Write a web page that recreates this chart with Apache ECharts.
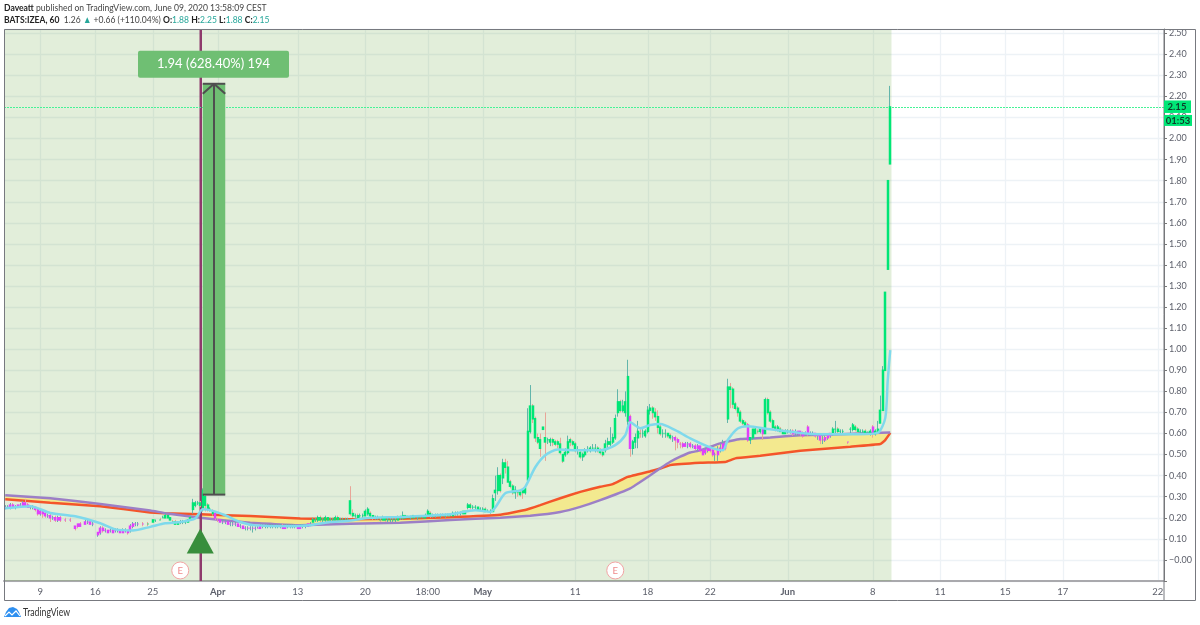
<!DOCTYPE html>
<html>
<head>
<meta charset="utf-8">
<script src="https://cdn.jsdelivr.net/npm/echarts@6/dist/echarts.min.js"></script>
<style>html,body{margin:0;padding:0;background:#fff}#c{width:1200px;height:625px}</style>
</head>
<body>
<div id="c"></div>
<script>
const _ = null;
const BAR_SLOTS = 464;
const tickIndex = [14,36,59,85,117,144,169,191,228,257,282,313,347,374,400,423,461];
const tickLabels = ['9','16','25','Apr','13','20','18:00','May','11','18','22','Jun','8','11','15','17','22'];
const monthLabels = ['Apr','May','Jun'];

const opens = [
.25,.25,.25,.26,.25,.25,.26,.26,.27,.26,
.25,.25,.25,.24,.22,.23,.22,.21,.21,.20,
.20,.19,.20,_,.19,_,.19,_,.16,.17,
.17,_,.17,.18,.18,.17,_,.12,.13,.15,
.14,.14,.14,.13,.14,.14,.14,.13,.14,.14,
.14,.16,.17,.17,_,.17,_,.17,_,.18,
.19,_,.19,.20,.20,.21,.20,.18,.18,.17,
.18,.18,.18,.18,.19,.24,.26,.27,.27,.24,
.30,.26,.24,.23,.22,.19,.19,.18,.18,.18,
.17,.17,.17,.17,.16,.16,.15,.15,.15,.15,
.15,.15,.15,.16,.16,.16,.16,.16,.16,.16,
.16,.16,.15,.16,.16,.16,.16,.16,.15,.16,
.16,.16,.17,.18,.19,.19,.20,.19,.19,.20,
.19,.19,.19,.20,.19,.19,.19,.19,.28,.22,
.21,.21,.21,.21,.21,.22,.22,.21,.20,.20,
.19,.19,.20,.19,.19,.19,.19,.19,.20,.20,
.21,.20,.20,.20,.20,.20,.20,.20,.20,.21,
.22,.21,.21,.21,.21,.21,.21,.21,.21,.21,
.22,.22,.22,.22,.23,.25,.26,.25,.25,.25,
.24,.24,.24,.23,.23,.23,.32,.33,.40,.39,
.46,.44,.37,.35,.32,.32,.32,.33,.32,.38,
.61,.73,.67,.58,.57,.62,.58,.57,.56,.57,
.56,.56,.55,.50,.50,.51,.57,.56,.55,.52,
.51,.49,.50,.52,.52,.53,.53,.53,.52,.51,
.52,.55,.55,.56,.58,.70,.75,.71,.70,.66,
.68,.53,.56,.58,.60,.60,.59,.61,.71,.72,
.70,.68,.63,.60,.60,.60,.59,.58,.58,.57,
.55,.55,.54,.55,.55,.54,.54,.53,.54,.52,
.51,.52,.53,.52,.50,.50,.52,.53,.55,.67,
.82,.81,.74,.72,.70,.66,.65,.64,.57,.58,
.60,.61,.61,.62,.60,.76,.70,.66,.63,.62,
.62,.61,.60,.61,.61,.61,.60,.60,.61,.60,
.60,.63,.60,.60,.60,.59,.59,.57,.57,.58,
.59,.60,.62,.62,.61,.61,_,.56,.62,.62,
.63,.62,.61,.61,.61,.60,.60,.63,.60,.61,
.65,.71,.90,1.38,1.88];

const closes = [
.25,.25,.26,.25,.25,.26,.26,.27,.26,.25,
.25,.25,.24,.22,.23,.22,.21,.21,.20,.20,
.19,.20,.19,_,.19,_,.19,_,.15,.16,
.16,_,.18,.18,.17,.17,_,.13,.15,.14,
.14,.13,.14,.14,.14,.14,.13,.14,.14,.13,
.16,.17,.17,.17,_,.17,_,.17,_,.19,
.19,_,.19,.20,.21,.20,.19,.18,.17,.18,
.18,.18,.18,.19,.20,.27,.27,.27,.26,.33,
.26,.24,.24,.22,.20,.19,.18,.18,.18,.17,
.17,.17,.17,.16,.16,.15,.15,.15,.15,.15,
.15,.15,.16,.16,.16,.16,.16,.16,.16,.16,
.16,.15,.16,.16,.16,.16,.16,.15,.16,.16,
.16,.17,.17,.19,.19,.20,.19,.19,.20,.19,
.19,.19,.20,.19,.19,.19,.19,.19,.22,.21,
.21,.20,.21,.21,.23,.24,.21,.20,.20,.20,
.19,.20,.19,.19,.19,.19,.19,.20,.20,.21,
.20,.20,.20,.21,.20,.20,.20,.20,.21,.23,
.21,.21,.21,.21,.21,.21,.21,.21,.21,.22,
.22,.22,.22,.23,.22,.26,.25,.25,.25,.24,
.24,.24,.23,.23,.23,.29,.33,.40,.33,.46,
.44,.37,.35,.32,.33,.32,.31,.32,.34,.61,
.73,.67,.58,.56,.53,.63,.56,.57,.57,.56,
.55,.55,.51,.47,.51,.56,.56,.55,.52,.52,
.49,.50,.52,.52,.53,.53,.53,.52,.51,.50,
.55,.56,.56,.58,.67,.75,.71,.73,.75,.87,
.53,.56,.58,.61,.60,.60,.61,.71,.72,.70,
.68,.63,.60,.60,.60,.59,.58,.58,.57,.56,
.55,.54,.55,.55,.54,.54,.53,.54,.52,.50,
.52,.53,.52,.50,.50,.52,.53,.55,.53,.82,
.81,.74,.72,.70,.66,.65,.64,.57,.58,.62,
.62,.61,.62,.60,.76,.70,.66,.63,.62,.63,
.61,.60,.61,.61,.61,.60,.60,.61,.60,.59,
.60,.60,.60,.60,.59,.59,.57,.57,.58,.59,
.60,.62,.62,.61,.61,.61,_,.56,.62,.64,
.62,.61,.61,.61,.60,.60,.61,.60,.61,.62,
.71,.90,1.27,1.80,2.15];

const highs = [
.26,.26,.27,.27,.26,.26,.27,.28,.29,.27,
.26,.26,.25,.25,.24,.23,.23,.22,.22,.21,
.21,.21,.21,_,.20,_,.20,_,.16,.17,
.18,_,.19,.19,.19,.18,_,.13,.16,.16,
.15,.14,.15,.15,.15,.15,.14,.15,.15,.14,
.17,.18,.18,.18,_,.18,_,.18,_,.19,
.19,_,.20,.21,.22,.21,.20,.19,.19,.18,
.19,.19,.19,.19,.21,.29,.28,.28,.28,.34,
.31,.27,.25,.24,.23,.20,.19,.19,.19,.18,
.18,.18,.18,.17,.17,.16,.16,.16,.16,.16,
.16,.16,.17,.17,.17,.17,.17,.17,.17,.17,
.17,.17,.17,.17,.17,.17,.17,.16,.17,.17,
.17,.17,.18,.20,.20,.21,.21,.20,.21,.20,
.20,.20,.21,.21,.20,.20,.20,.20,.35,.24,
.22,.22,.22,.22,.24,.25,.23,.21,.21,.21,
.20,.21,.20,.20,.20,.20,.20,.21,.21,.23,
.21,.21,.21,.21,.21,.21,.21,.21,.22,.24,
.23,.22,.22,.22,.22,.22,.22,.22,.22,.23,
.23,.23,.23,.23,.23,.27,.27,.26,.26,.25,
.25,.25,.25,.24,.24,.31,.40,.44,.41,.48,
.48,.47,.38,.36,.35,.33,.33,.34,.34,.72,
.83,.74,.68,.60,.60,.63,.70,.58,.58,.58,
.57,.57,.58,.50,.53,.59,.58,.57,.56,.54,
.52,.51,.53,.54,.54,.55,.55,.54,.53,.52,
.57,.58,.63,.60,.69,.81,.76,.76,.80,.95,
.69,.57,.60,.66,.62,.62,.62,.73,.74,.73,
.72,.71,.65,.62,.62,.60,.60,.59,.59,.58,
.56,.56,.56,.56,.56,.55,.55,.55,.54,.52,
.53,.54,.54,.53,.51,.54,.55,.57,.56,.86,
.84,.82,.75,.73,.71,.67,.66,.65,.58,.62,
.63,.62,.63,.63,.77,.77,.71,.67,.64,.64,
.63,.62,.62,.62,.62,.62,.62,.61,.61,.61,
.61,.64,.61,.61,.60,.60,.59,.59,.59,.60,
.60,.63,.66,.63,.62,.62,_,.56,.63,.65,
.64,.63,.62,.62,.62,.61,.62,.64,.62,.66,
.78,.92,1.27,1.80,2.25];

const lows = [
.24,.25,.24,.25,.24,.25,.25,.26,.25,.25,
.24,.24,.23,.21,.21,.20,.20,.20,.18,.19,
.18,.18,.18,_,.18,_,.18,_,.14,.15,
.16,_,.17,.17,.17,.16,_,.11,.12,.13,
.13,.13,.13,.13,.13,.13,.13,.13,.13,.12,
.13,.15,.16,.16,_,.16,_,.16,_,.18,
.18,_,.19,.20,.20,.20,.19,.17,.17,.17,
.17,.17,.17,.18,.19,.22,.25,.26,.25,.23,
.23,.23,.23,.21,.19,.18,.18,.17,.17,.17,
.16,.16,.16,.16,.15,.15,.14,.14,.14,.13,
.14,.15,.15,.15,.15,.15,.15,.15,.15,.15,
.15,.15,.15,.15,.15,.15,.15,.15,.15,.15,
.15,.16,.16,.18,.18,.18,.18,.18,.18,.18,
.18,.18,.19,.19,.18,.18,.18,.18,.21,.20,
.20,.20,.20,.20,.21,.21,.20,.19,.19,.19,
.18,.19,.18,.18,.18,.18,.18,.19,.19,.19,
.20,.20,.19,.20,.20,.19,.20,.20,.20,.21,
.20,.20,.20,.21,.20,.21,.20,.21,.21,.21,
.21,.21,.21,.22,.22,.24,.24,.24,.24,.24,
.23,.23,.23,.23,.22,.23,.28,.31,.32,.36,
.41,.37,.34,.31,.29,.30,.30,.29,.31,.37,
.60,.65,.56,.55,.49,.62,.47,.55,.54,.54,
.54,.53,.50,.46,.49,.50,.54,.54,.51,.50,
.48,.47,.49,.51,.51,.52,.51,.51,.50,.49,
.51,.53,.54,.55,.57,.68,.70,.70,.68,.64,
.49,.50,.53,.53,.58,.58,.58,.60,.69,.67,
.66,.60,.59,.58,.58,.58,.57,.56,.52,.53,
.53,.53,.54,.53,.53,.53,.52,.52,.51,.50,
.50,.51,.51,.49,.47,.47,.51,.52,.52,.65,
.72,.72,.71,.68,.65,.64,.63,.56,.55,.57,
.60,.60,.60,.57,.60,.69,.65,.62,.61,.61,
.61,.60,.60,.60,.60,.59,.59,.59,.59,.58,
.59,.59,.59,.59,.58,.57,.55,.55,.56,.57,
.58,.59,.60,.60,.60,.60,_,.55,.60,.61,
.61,.60,.60,.60,.60,.60,.59,.58,.59,.60,
.65,.71,.90,1.38,1.88];

const magentaRanges = [[0,55],[84,122],[250,250],[267,288],[297,297],[303,303],[315,330],[337,337],[347,347]];

const fastIdx = [0,10,18,28,38,44,51,58,64,70,76,79,83,88,94,100,114,122,130,137,144,158,178,188,194,200,206,208,212,216,221,230,238,244,248,250,254,258,262,268,274,282,287,289,293,297,306,318,326,342,349,352,353,354];
const fastMA = [.245,.255,.223,.207,.174,.145,.14,.157,.174,.18,.197,.24,.233,.212,.18,.164,.16,.165,.18,.185,.198,.204,.217,.236,.228,.316,.33,.347,.44,.497,.524,.52,.52,.545,.592,.653,.625,.64,.645,.616,.577,.534,.52,.569,.624,.635,.62,.603,.597,.597,.603,.673,.854,.996];

const purpleIdx = [0,18,38,58,64,78,98,118,138,158,178,198,210,222,230,238,250,258,262,266,270,274,278,286,294,306,318,334,354];
const purpleMA = [.307,.293,.265,.235,.222,.20,.176,.165,.172,.176,.19,.20,.21,.228,.252,.284,.34,.402,.435,.466,.49,.51,.52,.553,.574,.581,.592,.597,.605];

const orangeIdx = [0,18,38,58,64,78,98,118,138,158,178,198,208,214,222,230,238,243,249,258,262,266,278,288,292,302,318,338,350,352,354];
const orangeMA = [.288,.271,.255,.225,.222,.217,.208,.197,.193,.195,.203,.215,.237,.26,.293,.323,.347,.36,.394,.421,.434,.45,.461,.465,.482,.494,.518,.537,.55,.569,.603];

const earningsIdx = [70,244];
const signalIdx = 78;
const signalPrice = 0.09;
const measureFrom = 0.31, measureTo = 2.26;
const measureStartIdx = 79, measureEndIdx = 88;
const measureLabel = '1.94 (628.40%) 194';
const lastPrice = 2.15, lastIdx = 354;
const countdown = '01:53';

const GREEN='#00e676', MAGENTA='#e040fb', TEAL='#62b5ab', SALMON='#e8a598';
const FONT='Lato,"Open Sans",sans-serif';
const chart = echarts.init(document.getElementById('c'),null,{renderer:'canvas'});
const categories = new Array(BAR_SLOTS).fill('');
tickIndex.forEach((t,k)=>{categories[t]=tickLabels[k];});
const showTick = (i)=>tickIndex.includes(i);
const isMagenta = i=>magentaRanges.some(r=>i>=r[0]&&i<=r[1]);
const wicks = opens.map((o,i)=>o===null?['-','-','-','-']:[o,closes[i],lows[i],highs[i]]);
const bodies = opens.map((o,i)=>{
  if(o===null) return ['-','-','-','-'];
  const c=closes[i], col=isMagenta(i)?MAGENTA:GREEN;
  return {value:[o,c,Math.min(o,c),Math.max(o,c)],itemStyle:{color:col,color0:col,borderColor:col,borderColor0:col}};
});
const zip=(a,b)=>a.map((x,i)=>[x,b[i]]);
const halfBand = api => api.size([1,0])[0]/2;

const option = {
  animation:false,
  backgroundColor:'#fff',
  textStyle:{fontFamily:FONT},
  grid:{left:4,top:29,width:1160,height:552,containLabel:false},
  xAxis:{type:'category',data:categories,boundaryGap:true,
    axisLine:{onZero:false,lineStyle:{color:'#a9a9ad',width:2}},
    axisTick:{interval:showTick,alignWithLabel:true,length:3,lineStyle:{color:'#777'}},
    axisLabel:{interval:showTick,hideOverlap:false,margin:6,fontSize:9.5,color:'#5d606b',fontFamily:FONT,
      formatter:v=>monthLabels.includes(v)?'{m|'+v+'}':v,rich:{m:{fontWeight:'bold',fontSize:9.5,color:'#5d606b',fontFamily:FONT}}},
    splitLine:{show:true,interval:showTick,alignWithLabel:true,lineStyle:{color:'#edf2f6',width:1.3}}
  },
  yAxis:{type:'value',position:'right',min:-0.1,max:2.52,interval:0.1,scale:false,
    axisLine:{show:true,lineStyle:{color:'#777'}},
    axisTick:{show:true,length:3,lineStyle:{color:'#777'}},
    axisLabel:{margin:5,fontSize:9,color:'#5d606b',fontFamily:FONT,
      formatter:v=>{ if(v<-0.05||v>2.505) return ''; return Math.abs(v)<1e-6?'\u22120.00':v.toFixed(2);}},
    splitLine:{show:true,lineStyle:{color:'#edf2f6',width:1.3}}
  },
  series:[
   {type:'custom',name:'shade',z:1,silent:true,data:[[0]],
    renderItem:(p,api)=>{const c=p.coordSys;const r=api.coord([lastIdx,0])[0]+halfBand(api);
      return {type:'rect',shape:{x:c.x,y:c.y,width:r-c.x,height:c.height},style:{fill:'rgba(110,170,70,0.2)'}};}},
   {type:'custom',name:'cloud',z:2,silent:true,data:[[0]],
    renderItem:(p,api)=>{const pts=[];
      orangeIdx.forEach((x,k)=>pts.push(api.coord([x,orangeMA[k]])));
      for(let k=purpleIdx.length-1;k>=0;k--)pts.push(api.coord([purpleIdx[k],purpleMA[k]]));
      return {type:'polygon',shape:{points:pts},style:{fill:'#f3e98f'}};}},
   {type:'line',name:'orange',z:3,data:zip(orangeIdx,orangeMA),showSymbol:false,silent:true,smooth:0.1,
    lineStyle:{color:'#f4552a',width:2.5}},
   {type:'line',name:'purple',z:3,data:zip(purpleIdx,purpleMA),showSymbol:false,silent:true,smooth:0.1,
    lineStyle:{color:'#9c7fc6',width:2.5}},
   {type:'custom',name:'event',z:4,silent:true,data:[[signalIdx]],
    renderItem:(p,api)=>{const c=p.coordSys;const x=api.coord([signalIdx,0])[0]+0.5;
      return {type:'line',shape:{x1:x,y1:c.y,x2:x,y2:c.y+c.height},style:{stroke:'#8e3a6c',lineWidth:2.5}};}},
   {type:'candlestick',name:'wicks',z:5,silent:true,barWidth:1,data:wicks,
    itemStyle:{color:TEAL,color0:SALMON,borderColor:TEAL,borderColor0:SALMON,borderWidth:1}},
   {type:'candlestick',name:'bodies',z:6,silent:true,barWidth:1.5,data:bodies,
    itemStyle:{borderWidth:1.5}},
   {type:'custom',name:'lastPriceLine',z:6,silent:true,data:[[lastPrice]],
    renderItem:(p,api)=>{const c=p.coordSys;const y=Math.round(api.coord([0,lastPrice])[1])+0.5;
      return {type:'line',shape:{x1:c.x,y1:y,x2:c.x+c.width,y2:y},style:{stroke:'#46f296',lineWidth:1,lineDash:[2,1],opacity:1}};}},
   {type:'line',name:'fast',z:7,data:zip(fastIdx,fastMA),showSymbol:false,silent:true,smooth:0.25,
    lineStyle:{color:'#7fd9ec',width:2.5}},
   {type:'scatter',name:'signal',z:8,silent:true,symbol:'triangle',symbolSize:[27,25],data:[[signalIdx,signalPrice]],
    itemStyle:{color:'#388e3c',opacity:1}},
   {type:'scatter',name:'earnings',z:8,silent:true,symbol:'circle',symbolSize:17,data:earningsIdx.map(i=>[i,-0.05]),
    itemStyle:{color:'#fff',borderColor:'#f2a3a3',borderWidth:1,opacity:1},
    label:{show:true,position:'inside',formatter:'E',color:'#ef8a8a',fontSize:9.5,fontFamily:FONT}},
   {type:'custom',name:'measure',z:9,silent:true,data:[[measureStartIdx]],clip:false,
    renderItem:(p,api)=>{
      const x0=api.coord([measureStartIdx,0])[0], x1=api.coord([measureEndIdx,0])[0];
      const yT=api.coord([0,measureTo])[1], yB=api.coord([0,measureFrom])[1];
      const mx=(x0+x1)/2, dark='#4f4f4f';
      const ln=(a,b,c,d,w)=>({type:'line',shape:{x1:a,y1:b,x2:c,y2:d},style:{stroke:dark,lineWidth:w||1.5}});
      return {type:'group',children:[
        {type:'rect',shape:{x:x0,y:yT,width:x1-x0,height:yB-yT},style:{fill:'#6fbf73'}},
        ln(mx,yT,mx,yB,2),ln(x0,yT,x1,yT,2),ln(x0,yB,x1,yB,2),
        ln(mx,yT,x0,yT+10,2),ln(mx,yT,x1,yT+10,2),
        {type:'rect',shape:{x:mx-76,y:yT-33,width:151,height:27,r:2},style:{fill:'#6fbf73'}},
        {type:'text',style:{x:mx-0.5,y:yT-19.5,text:measureLabel,fill:'#fff',font:'13px '+FONT,textAlign:'center',textVerticalAlign:'middle'}}
      ]};
    }}
  ]
};
chart.setOption(option);

const bt={fontFamily:FONT,fontSize:10,fontWeight:'bold',fill:'#222'};
const nt={fontFamily:FONT,fontSize:10,fontWeight:'normal',fill:'#444'};
const vt={fontFamily:FONT,fontSize:10,fontWeight:'normal',fill:'#26a69a'};
const py = chart.convertToPixel({yAxisIndex:0},lastPrice);
chart.setOption({graphic:[
  {type:'text',silent:true,z:20,x:4,y:8,scaleX:0.855,style:{text:'{b|Daveatt}{n| published on TradingView.com, June 09, 2020 13:58:09 CEST}',rich:{b:bt,n:nt},verticalAlign:'middle',textVerticalAlign:'middle'}},
  {type:'text',silent:true,z:20,x:4,y:20,scaleX:0.855,style:{text:'{b|BATS:IZEA, 60}{n|  1.26 }{t|▲}{n| +0.66 (+110.04%) }{b|O:}{v|1.88 }{b|H:}{v|2.25 }{b|L:}{v|1.88 }{b|C:}{v|2.15}',rich:{b:bt,n:nt,t:{fontSize:10,fill:'#26a69a'},v:vt},verticalAlign:'middle',textVerticalAlign:'middle'}},
  {type:'rect',silent:true,z:20,shape:{x:4.5,y:29.5,width:1191,height:571},style:{fill:'none',stroke:'#77797f',lineWidth:1}},
  {type:'line',silent:true,z:20,shape:{x1:1164,y1:29,x2:1164,y2:600},style:{stroke:'#77797f',lineWidth:1}},
  {type:'rect',silent:true,z:21,shape:{x:1164,y:py-6.5,width:27,height:12.5},style:{fill:GREEN}},
  {type:'text',silent:true,z:22,style:{x:1177,y:py,text:lastPrice.toFixed(2),fill:'#0e3b2a',font:'bold 9.5px '+FONT,textAlign:'center',textVerticalAlign:'middle'}},
  {type:'rect',silent:true,z:21,shape:{x:1164,y:py+8,width:28,height:11},style:{fill:GREEN}},
  {type:'text',silent:true,z:22,style:{x:1178,y:py+13.5,text:countdown,fill:'#0e3b2a',font:'bold 9.5px '+FONT,textAlign:'center',textVerticalAlign:'middle'}},
  {type:'polygon',silent:true,z:20,shape:{points:[[4,617],[6,612],[9,608],[13,607],[17,609],[19,612],[21,617]]},style:{fill:'#2e8ff0'}},
  {type:'polyline',silent:true,z:21,shape:{points:[[5,616],[9,612],[12,615],[16,611],[20,616]]},style:{stroke:'#fff',fill:'none',lineWidth:1.2}},
  {type:'text',silent:true,z:20,x:23,y:613,scaleX:0.83,style:{text:'TradingView',fill:'#333',font:'10.5px '+FONT,textVerticalAlign:'middle'}}
]});
</script>
</body>
</html>
